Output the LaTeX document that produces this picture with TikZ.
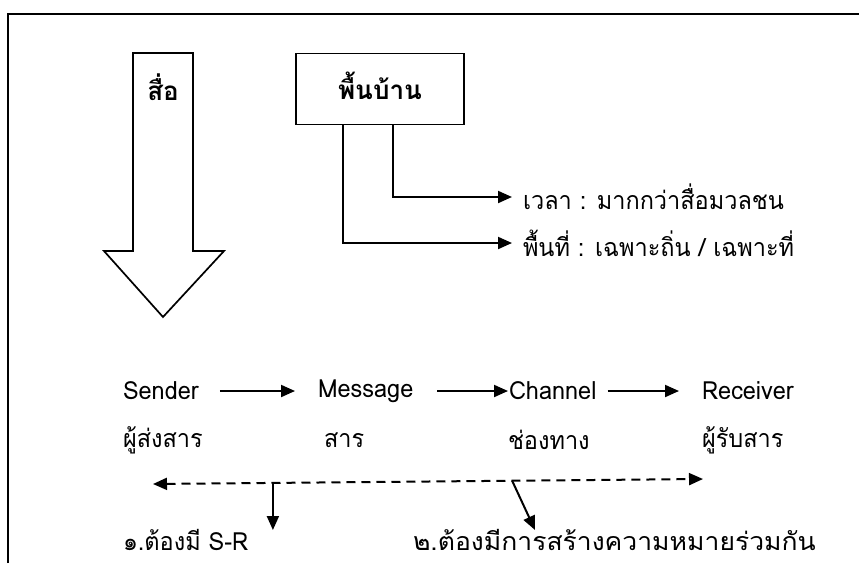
\documentclass[tikz,border=0pt]{standalone}
\usepackage{fontspec}
\newfontfamily\thai[Script=Thai,FakeStretch=0.94]{Loma}
\newfontfamily\thaiwide[Script=Thai,FakeStretch=1.06]{Loma}
\newfontfamily\thaibold[Script=Thai]{Loma}
\usetikzlibrary{arrows.meta,calc}
\begin{document}
\begin{tikzpicture}[x=1pt,y=-1pt,
  line width=2pt,
  tip/.style={-{Triangle[length=14pt,width=12pt]}},
  lbl/.style={inner sep=0pt,anchor=west,font=\thai\fontsize{25}{30}\selectfont},
  hd/.style={inner sep=0pt,font=\thaibold\bfseries\fontsize{26}{30}\selectfont}]
\useasboundingbox (0,0) rectangle (859,563);
% frame
\draw[line width=2.4pt] (8,563) -- (8,14) -- (859,14);
% block arrow
\draw[line width=1.7pt,line join=miter] (133,53) -- (193,53) -- (193,251) -- (224,251) -- (163,317) -- (104,251) -- (133,251) -- cycle;
\node[hd] (media) at (163,87) {สื่อ};
% folk box
\node[draw,line width=1.8pt,minimum width=168pt,minimum height=71pt,inner sep=0pt] (folk) at (380,89) {};
\node[hd] (folktxt) at (380,86) {พื้นบ้าน};
\node[lbl] (time) at (522,197) {เวลา : มากกว่าสื่อมวลชน};
\node[lbl] (area) at (522,243) {พื้นที่ : เฉพาะถิ่น / เฉพาะที่};
\draw[tip] ([xshift=13pt]folk.south) |- ([xshift=-10pt]time.west);
\draw[tip] ([xshift=-37pt]folk.south) |- ([xshift=-10pt]area.west);
% SMCR row
\node[lbl] (sender) at (122,391) {Sender};
\node[lbl] (message) at (317,391) {Message};
\node[lbl] (channel) at (508,391) {Channel};
\node[lbl] (receiver) at (701,391) {Receiver};
\node[lbl] (sth) at (122,440) {ผู้ส่งสาร};
\node[lbl] (mth) at (323,440) {สาร};
\node[lbl] (cth) at (507,440) {ช่องทาง};
\node[lbl] (rth) at (701,440) {ผู้รับสาร};
\draw[tip,shorten <=20pt,shorten >=22pt] (sender.east) -- (message.west);
\draw[tip,shorten <=23pt] (message.east) -- (channel.west);
\draw[tip,shorten <=10pt,shorten >=22pt] (channel.east) -- (receiver.west);
% feedback dashed
\coordinate (dl) at (153,484);
\coordinate (dr) at (703,479);
\draw[{Triangle[length=14pt,width=12pt]}-{Triangle[length=14pt,width=12pt]},dash pattern=on 9pt off 6pt] (dl) -- (dr);
\coordinate (d1) at ($(dl)!0.218!(dr)$);
\coordinate (d2) at ($(dl)!0.653!(dr)$);
\node[lbl,anchor=base west,text depth=0pt] (n1) at (122,550) {๑.ต้องมี S-R};
\node[lbl,anchor=base west,text depth=0pt,font=\thaiwide\fontsize{25}{30}\selectfont] (n2) at (412,550) {๒.ต้องมีการสร้างความหมายร่วมกัน};
\draw[tip] (d1) -- (d1 |- 0,530) coordinate (e1);
\draw[tip] (d2) -- (535,530) coordinate (e2);
\end{tikzpicture}
\end{document}
